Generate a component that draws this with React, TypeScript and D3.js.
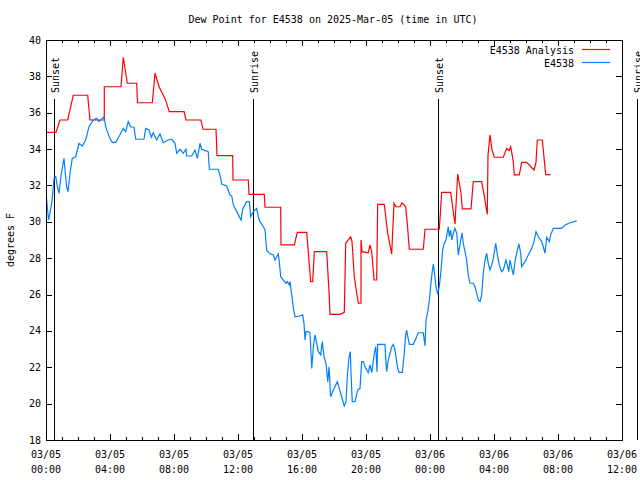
import React from "react";
import * as d3 from "d3";

const TITLE = "Dew Point for E4538 on 2025-Mar-05 (time in UTC)";
const Y_LABEL = "degrees F";
const SERIES_NAMES = ["E4538 Analysis", "E4538"];
const SERIES_COLORS = ["#ff0000", "#0080ff"];

// hours since 03/05 00:00 UTC
const X_TICK_HOURS = [0, 4, 8, 12, 16, 20, 24, 28, 32, 36];
const X_TICK_LABELS = [
  ["03/05", "00:00"], ["03/05", "04:00"], ["03/05", "08:00"], ["03/05", "12:00"],
  ["03/05", "16:00"], ["03/05", "20:00"], ["03/06", "00:00"], ["03/06", "04:00"],
  ["03/06", "08:00"], ["03/06", "12:00"],
];
const Y_TICKS = [18, 20, 22, 24, 26, 28, 30, 32, 34, 36, 38, 40];

const SUN_EVENTS_HOURS = [0.5, 12.96, 24.48, 36.94];
const SUN_EVENTS_LABELS = ["Sunset", "Sunrise", "Sunset", "Sunrise"];

// Analysis (red) [hour, degF]
const analysis: [number, number][] = [
  [0, 34.92], [0.625, 34.92], [0.875, 35.6], [1.356, 35.6], [1.706, 36.96], [2.606, 36.96],
  [2.75, 35.6], [3.644, 35.6], [3.644, 37.43], [4.6875, 37.43], [4.831, 39.05], [5.081, 37.62],
  [5.669, 37.62], [5.719, 36.55], [6.644, 36.55], [6.8125, 38.17], [7.081, 37.4], [7.4375, 36.79],
  [7.706, 36.06], [8.625, 36.06], [8.75, 35.6], [9.6875, 35.6], [9.8125, 35.09], [10.625, 35.09],
  [10.6875, 33.64], [11.669, 33.64], [11.6875, 32.3], [12.644, 32.3], [12.6875, 31.51], [13.644, 31.51],
  [13.6875, 30.8], [14.669, 30.8], [14.6875, 28.73], [15.519, 28.73], [15.706, 29.42], [16.294, 29.42],
  [16.544, 26.71], [16.669, 26.71], [16.769, 28.36], [17.544, 28.36], [17.6875, 26.16], [17.75, 24.91],
  [18.375, 24.91], [18.644, 25.02], [18.731, 28.82], [19.044, 29.18], [19.125, 28.91], [19.269, 26.98],
  [19.419, 26.07], [19.519, 25.52], [19.6875, 25.52], [19.6875, 29.0], [19.75, 28.36], [20.144, 28.3],
  [20.25, 28.73], [20.356, 28.36], [20.456, 27.35], [20.5, 26.8], [20.669, 26.8], [20.731, 30.96],
  [21.144, 30.96], [21.356, 29.37], [21.456, 28.91], [21.606, 28.23], [21.75, 31.02], [21.875, 30.83],
  [22.125, 30.83], [22.25, 31.05], [22.481, 30.83], [22.606, 29.64], [22.706, 28.49], [23.581, 28.49],
  [23.6875, 29.59], [24.581, 29.59], [24.731, 31.62], [25.294, 31.62], [25.4375, 30.65], [25.5625, 29.88],
  [25.731, 32.63], [25.9375, 31.57], [26.019, 30.71], [26.5625, 30.71], [26.706, 32.21], [27.231, 32.21],
  [27.375, 31.51], [27.5, 30.83], [27.581, 30.41], [27.625, 33.68], [27.75, 34.78], [27.875, 33.95],
  [28.019, 33.55], [28.581, 33.55], [28.794, 34.04], [28.9375, 33.91], [29.044, 34.13], [29.206, 33.31],
  [29.269, 32.58], [29.581, 32.58], [29.731, 33.27], [30.044, 33.27], [30.5, 32.85], [30.625, 33.27],
  [30.706, 34.5], [31.019, 34.5], [31.231, 32.6], [31.544, 32.6],
];

// Observations (blue) [hour, degF]
const observed: [number, number][] = [
  [0.03, 31.31], [0.16, 30.1], [0.25, 30.49], [0.36, 31.04], [0.44, 31.75], [0.5, 32.39], [0.61, 32.48],
  [0.71, 31.93], [0.81, 31.57], [0.96, 32.67], [1.125, 33.49], [1.19, 32.85], [1.29, 31.93], [1.375, 31.66],
  [1.5, 32.67], [1.64, 33.49], [1.86, 33.58], [2.06, 34.32], [2.27, 34.17], [2.48, 34.5], [2.69, 35.23],
  [2.96, 35.6], [3.17, 35.69], [3.31, 35.51], [3.52, 35.69], [3.625, 35.78], [3.73, 35.23], [3.83, 34.96],
  [4.04, 34.5], [4.14, 34.37], [4.36, 34.37], [4.56, 34.68], [4.83, 35.14], [4.98, 34.96], [5.14, 35.51],
  [5.29, 35.23], [5.5, 35.2], [5.61, 34.54], [6.125, 34.54], [6.23, 35.14], [6.44, 35.05], [6.58, 34.65],
  [6.71, 34.9], [6.92, 34.5], [7.125, 34.83], [7.33, 34.35], [7.64, 34.5], [7.86, 34.54], [8.06, 34.32],
  [8.17, 33.77], [8.375, 33.99], [8.58, 33.77], [8.75, 33.99], [8.79, 33.62], [9.11, 33.62], [9.31, 33.95],
  [9.46, 33.49], [9.625, 34.32], [9.73, 33.99], [10.14, 33.86], [10.21, 32.89], [10.77, 32.89], [10.92, 32.39],
  [10.98, 32.08], [11.29, 31.97], [11.5, 31.48], [11.61, 31.42], [11.71, 30.93], [11.92, 30.56], [12.19, 30.1],
  [12.29, 30.69], [12.54, 31.11], [12.71, 31.11], [12.79, 30.28], [12.96, 30.56], [13.17, 30.74], [13.27, 30.28],
  [13.375, 30.01], [13.58, 29.73], [13.69, 29.55], [13.79, 28.45], [13.96, 28.27], [14.21, 28.18], [14.31, 27.9],
  [14.42, 28.08], [14.52, 28.23], [14.58, 27.81], [14.67, 26.98], [14.83, 26.8], [15.0, 26.62], [15.08, 26.71],
  [15.21, 26.53], [15.25, 26.71], [15.36, 25.98], [15.46, 25.24], [15.56, 24.78], [15.875, 24.82], [16.04, 24.88],
  [16.125, 24.42], [16.19, 23.5], [16.25, 23.96], [16.39, 23.96], [16.5, 23.9], [16.61, 21.94], [16.71, 23.13],
  [16.81, 23.78], [16.92, 23.32], [17.02, 22.86], [17.17, 22.68], [17.27, 23.41], [17.375, 22.58], [17.5, 22.22],
  [17.61, 21.21], [17.69, 22.03], [17.79, 20.38], [17.96, 20.75], [18.21, 21.21], [18.33, 20.84], [18.48, 20.38],
  [18.64, 19.87], [18.75, 20.11], [18.83, 21.48], [18.94, 22.58], [19.02, 22.86], [19.06, 21.76], [19.14, 20.11],
  [19.31, 20.11], [19.48, 20.75], [19.625, 20.84], [19.73, 22.31], [19.83, 22.31], [19.98, 21.94], [20.14, 21.7],
  [20.25, 22.13], [20.36, 21.7], [20.52, 22.77], [20.61, 23.13], [20.69, 21.76], [20.73, 23.26], [21.19, 23.26],
  [21.23, 22.49], [21.29, 21.76], [21.39, 22.4], [21.61, 23.13], [21.71, 23.26], [21.81, 22.95], [21.98, 21.94],
  [22.06, 21.72], [22.27, 21.72], [22.39, 22.77], [22.48, 23.78], [22.54, 24.05], [22.61, 23.68], [22.71, 23.26],
  [22.96, 23.26], [23.17, 23.68], [23.27, 23.9], [23.58, 23.9], [23.64, 23.5], [23.69, 23.17], [23.75, 24.6],
  [23.86, 25.06], [23.96, 25.7], [24.06, 26.64], [24.14, 27.26], [24.21, 27.68], [24.31, 26.98], [24.375, 26.43],
  [24.48, 26.03], [24.58, 26.43], [24.69, 27.35], [24.79, 28.45], [24.89, 28.82], [25.0, 29.0], [25.14, 29.73],
  [25.21, 29.18], [25.29, 29.55], [25.36, 29.0], [25.46, 29.37], [25.56, 29.64], [25.67, 29.37], [25.77, 28.18],
  [25.875, 28.73], [26.0, 29.4], [26.08, 28.82], [26.19, 28.36], [26.29, 27.9], [26.39, 27.08], [26.5, 26.62],
  [26.71, 26.62], [26.81, 26.43], [26.92, 26.07], [27.02, 25.7], [27.125, 25.61], [27.23, 25.98], [27.33, 27.17],
  [27.44, 27.9], [27.54, 28.27], [27.64, 27.72], [27.75, 27.35], [27.86, 27.63], [27.96, 27.99], [28.11, 28.82],
  [28.23, 28.08], [28.33, 27.63], [28.48, 27.26], [28.58, 27.35], [28.75, 27.9], [28.83, 27.63], [28.92, 27.26],
  [29.0, 27.9], [29.11, 27.44], [29.21, 27.08], [29.31, 27.81], [29.46, 28.45], [29.56, 28.78], [29.67, 28.27],
  [29.73, 27.53], [29.94, 27.81], [30.14, 28.18], [30.36, 28.54], [30.5, 28.91], [30.625, 29.46], [30.77, 29.18],
  [30.98, 28.91], [31.08, 28.63], [31.19, 28.27], [31.29, 29.15], [31.46, 28.91], [31.54, 29.28], [31.71, 29.64],
  [32.23, 29.64], [32.44, 29.83], [32.75, 29.95], [33.17, 30.05],
];

const W = 640;
const H = 480;
const M = { left: 46, right: 622, top: 40, bottom: 440 };
const FONT = "'DejaVu Sans Mono', monospace";

export default function App() {
  const x = d3.scaleLinear().domain([0, 36]).range([M.left, M.right]);
  const y = d3.scaleLinear().domain([18, 40]).range([M.bottom, M.top]);
  const line = d3
    .line<[number, number]>()
    .x((d) => x(d[0]))
    .y((d) => y(d[1]));
  const minorHours = d3.range(0, 37, 1);
  const series = [analysis, observed];

  return (
    <svg
      width={W}
      height={H}
      style={{ position: "absolute", left: 0, top: 0, background: "#fff" }}
      fontFamily={FONT}
      fontSize={10}
    >
      <rect x={0} y={0} width={W} height={H} fill="#fff" />
      <text x={(M.left + M.right) / 2 - 1} y={23} textAnchor="middle" fill="#000">{TITLE}</text>
      <text transform={`translate(14,${(M.top + M.bottom) / 2}) rotate(-90)`} textAnchor="middle" fill="#000">
        {Y_LABEL}
      </text>

      {/* sun events */}
      {SUN_EVENTS_HOURS.map((h, i) => (
        <g key={"sun" + i}>
          <line x1={Math.round(x(h)) + 0.5} x2={Math.round(x(h)) + 0.5} y1={99} y2={M.bottom} stroke="#000" strokeWidth={1} />
          <text transform={`translate(${Math.round(x(h)) + 5},93) rotate(-90)`} textAnchor="start" fill="#000">
            {SUN_EVENTS_LABELS[i]}
          </text>
        </g>
      ))}

      {/* y ticks */}
      {Y_TICKS.map((v) => (
        <g key={"y" + v} shapeRendering="crispEdges">
          <line x1={M.left} x2={M.left + 6} y1={Math.round(y(v)) + 0.5} y2={Math.round(y(v)) + 0.5} stroke="#000" />
          <line x1={M.right - 6} x2={M.right} y1={Math.round(y(v)) + 0.5} y2={Math.round(y(v)) + 0.5} stroke="#000" />
          <text x={M.left - 5} y={y(v) + 3.5} textAnchor="end" fill="#000">{v}</text>
        </g>
      ))}

      {/* x ticks */}
      {minorHours.map((h) => {
        const major = h % 4 === 0;
        const len = major ? 6 : 3;
        const px = Math.round(x(h)) + 0.5;
        return (
          <g key={"xm" + h} shapeRendering="crispEdges">
            <line x1={px} x2={px} y1={M.bottom - len} y2={M.bottom} stroke="#000" />
            <line x1={px} x2={px} y1={M.top} y2={M.top + len} stroke="#000" />
          </g>
        );
      })}
      {X_TICK_HOURS.map((h, i) => (
        <g key={"xl" + h}>
          <text x={x(h)} y={458} textAnchor="middle" fill="#000">{X_TICK_LABELS[i][0]}</text>
          <text x={x(h)} y={473} textAnchor="middle" fill="#000">{X_TICK_LABELS[i][1]}</text>
        </g>
      ))}

      {/* series */}
      {series.map((s, i) => (
        <path key={"s" + i} d={line(s) || ""} fill="none" stroke={SERIES_COLORS[i]} strokeWidth={1.2} />
      ))}

      {/* legend */}
      {SERIES_NAMES.map((n, i) => (
        <g key={"lg" + i}>
          <text x={574} y={53.5 + i * 13} textAnchor="end" fill="#000">{n}</text>
          <line x1={582} x2={610} y1={49.5 + i * 13} y2={49.5 + i * 13} stroke={SERIES_COLORS[i]} strokeWidth={1.2} />
        </g>
      ))}

      {/* border */}
      <rect
        x={M.left + 0.5}
        y={M.top + 0.5}
        width={M.right - M.left}
        height={M.bottom - M.top}
        fill="none"
        stroke="#000"
        shapeRendering="crispEdges"
      />
    </svg>
  );
}
